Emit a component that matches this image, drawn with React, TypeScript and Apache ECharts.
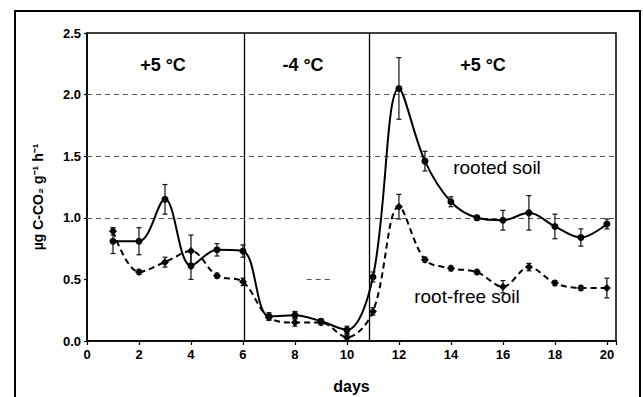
import React, { useEffect, useRef } from "react";
import * as echarts from "echarts";

const days = [1, 2, 3, 4, 5, 6, 7, 8, 9, 10, 11, 12, 13, 14, 15, 16, 17, 18, 19, 20];
const rooted = [0.81, 0.81, 1.15, 0.61, 0.74, 0.73, 0.2, 0.21, 0.16, 0.09, 0.52, 2.05, 1.46, 1.13, 1.0, 0.98, 1.04, 0.93, 0.84, 0.95];
const rootedErr = [0.1, 0.11, 0.12, 0.11, 0.05, 0.05, 0.03, 0.03, 0.02, 0.03, 0.04, 0.25, 0.08, 0.04, 0.02, 0.08, 0.14, 0.1, 0.07, 0.04];
const rootFree = [0.89, 0.56, 0.64, 0.73, 0.53, 0.48, 0.19, 0.15, 0.15, 0.03, 0.24, 1.09, 0.66, 0.59, 0.56, 0.44, 0.6, 0.47, 0.43, 0.43];
const rootFreeErr = [0.03, 0.02, 0.04, 0.13, 0.02, 0.03, 0.02, 0.03, 0.02, 0.02, 0.03, 0.1, 0.02, 0.02, 0.02, 0.05, 0.03, 0.02, 0.02, 0.08];
const phaseBounds = [6.05, 10.85];
const gridValues = [1.0, 1.5, 2.0];
const phaseLabels = ["+5 °C", "-4 °C", "+5 °C"];
const seriesNames = ["rooted soil", "root-free soil"];

const FONT = "Liberation Sans, Arial, sans-serif";

function errData(vals: number[], errs: number[]) {
  return days.map((d, i) => [d, vals[i] - errs[i], vals[i] + errs[i]]);
}

function errRender(params: any, api: any) {
  const x = api.value(0);
  const lo = api.coord([x, api.value(1)]);
  const hi = api.coord([x, api.value(2)]);
  const cap = 2.5;
  const st = { stroke: "#111", lineWidth: 1.2 };
  return {
    type: "group",
    children: [
      { type: "line", shape: { x1: lo[0], y1: lo[1], x2: hi[0], y2: hi[1] }, style: st },
      { type: "line", shape: { x1: lo[0] - cap, y1: lo[1], x2: lo[0] + cap, y2: lo[1] }, style: st },
      { type: "line", shape: { x1: hi[0] - cap, y1: hi[1], x2: hi[0] + cap, y2: hi[1] }, style: st },
    ],
  };
}

export default function App() {
  const ref = useRef<HTMLDivElement>(null);
  useEffect(() => {
    const chart = echarts.init(ref.current!, null, { renderer: "svg" });
    const gridStyle = { color: "#555", type: [5, 4] as any, width: 1 };
    chart.setOption({
      animation: false,
      backgroundColor: "#fff",
      grid: { left: 87, top: 33, right: 27, bottom: 56, containLabel: false, outerBoundsMode: "none" },
      xAxis: {
        type: "value",
        min: 0,
        max: 20.35,
        interval: 2,
        axisLine: { show: true, lineStyle: { color: "#000", width: 1.5 } },
        axisTick: { show: true, length: 4, lineStyle: { color: "#000", width: 1.2 } },
        axisLabel: {
          color: "#000",
          fontFamily: FONT,
          fontWeight: "bold",
          fontSize: 13,
          margin: 7,
          formatter: (v: number) => (Math.abs(v - Math.round(v)) < 1e-6 ? String(Math.round(v)) : ""),
        },
        splitLine: { show: false },
        name: "days",
        nameLocation: "middle",
        nameGap: 37,
        nameTextStyle: { color: "#000", fontFamily: FONT, fontWeight: "bold", fontSize: 16 },
      },
      yAxis: {
        type: "value",
        min: 0,
        max: 2.5,
        interval: 0.5,
        axisLine: { show: true, lineStyle: { color: "#000", width: 1.5 } },
        axisTick: { show: true, length: 3, lineStyle: { color: "#000", width: 1.2 } },
        axisLabel: {
          color: "#000",
          fontFamily: FONT,
          fontWeight: "bold",
          fontSize: 13,
          margin: 6,
          formatter: (v: number) => v.toFixed(1),
        },
        splitLine: { show: false },
      },
      series: [
        {
          name: seriesNames[0],
          type: "line",
          data: days.map((d, i) => [d, rooted[i]]),
          smooth: 0.35,
          symbol: "circle",
          symbolSize: 7,
          itemStyle: { color: "#000" },
          lineStyle: { color: "#000", width: 2 },
          z: 5,
          markLine: {
            silent: true,
            symbol: "none",
            label: { show: false },
            data: [
              ...phaseBounds.map((b) => ({ xAxis: b, lineStyle: { color: "#000", width: 1.3, type: "solid" } })),
              ...gridValues.map((g) => ({ yAxis: g, lineStyle: gridStyle })),
              [
                { coord: [8.45, 0.5], lineStyle: gridStyle },
                { coord: [9.35, 0.5] },
              ],
            ],
          },
        },
        {
          name: seriesNames[1],
          type: "line",
          data: days.map((d, i) => [d, rootFree[i]]),
          smooth: 0.35,
          symbol: "diamond",
          symbolSize: 8,
          itemStyle: { color: "#000" },
          lineStyle: { color: "#000", width: 2, type: [6, 4] },
          z: 4,
        },
        {
          type: "custom",
          renderItem: errRender,
          data: errData(rooted, rootedErr),
          z: 6,
          silent: true,
        },
        {
          type: "custom",
          renderItem: errRender,
          data: errData(rootFree, rootFreeErr),
          z: 6,
          silent: true,
        },
      ],
      graphic: [
        {
          type: "rect",
          shape: { x: 15, y: 11, width: 625, height: 400 },
          style: { fill: "none", stroke: "#000", lineWidth: 2 },
          silent: true,
        },
        {
          type: "rect",
          shape: { x: 87, y: 33, width: 529, height: 308 },
          style: { fill: "none", stroke: "#000", lineWidth: 1.5 },
          silent: true,
        },
        ...[163, 303, 483].map((cx, i) => ({
          type: "text",
          x: cx,
          y: 65,
          style: {
            text: phaseLabels[i],
            fill: "#000",
            font: `bold 18px ${FONT}`,
            align: "center",
            verticalAlign: "middle",
          },
        })),
        {
          type: "text",
          x: 497,
          y: 167,
          style: { text: seriesNames[0], fill: "#000", font: `19px ${FONT}`, align: "center", verticalAlign: "middle" },
        },
        {
          type: "text",
          x: 467,
          y: 296,
          style: { text: seriesNames[1], fill: "#000", font: `19px ${FONT}`, align: "center", verticalAlign: "middle" },
        },
        {
          type: "text",
          x: 38,
          y: 197,
          rotation: Math.PI / 2,
          style: {
            text: "µg C-CO₂ g⁻¹ h⁻¹",
            fill: "#000",
            font: `bold 14px ${FONT}`,
            align: "center",
            verticalAlign: "middle",
          },
        },
      ],
    });
    return () => chart.dispose();
  }, []);
  return (
    <div
      ref={ref}
      style={{ position: "absolute", left: 0, top: 0, width: 643, height: 397, background: "#fff" }}
    />
  );
}
